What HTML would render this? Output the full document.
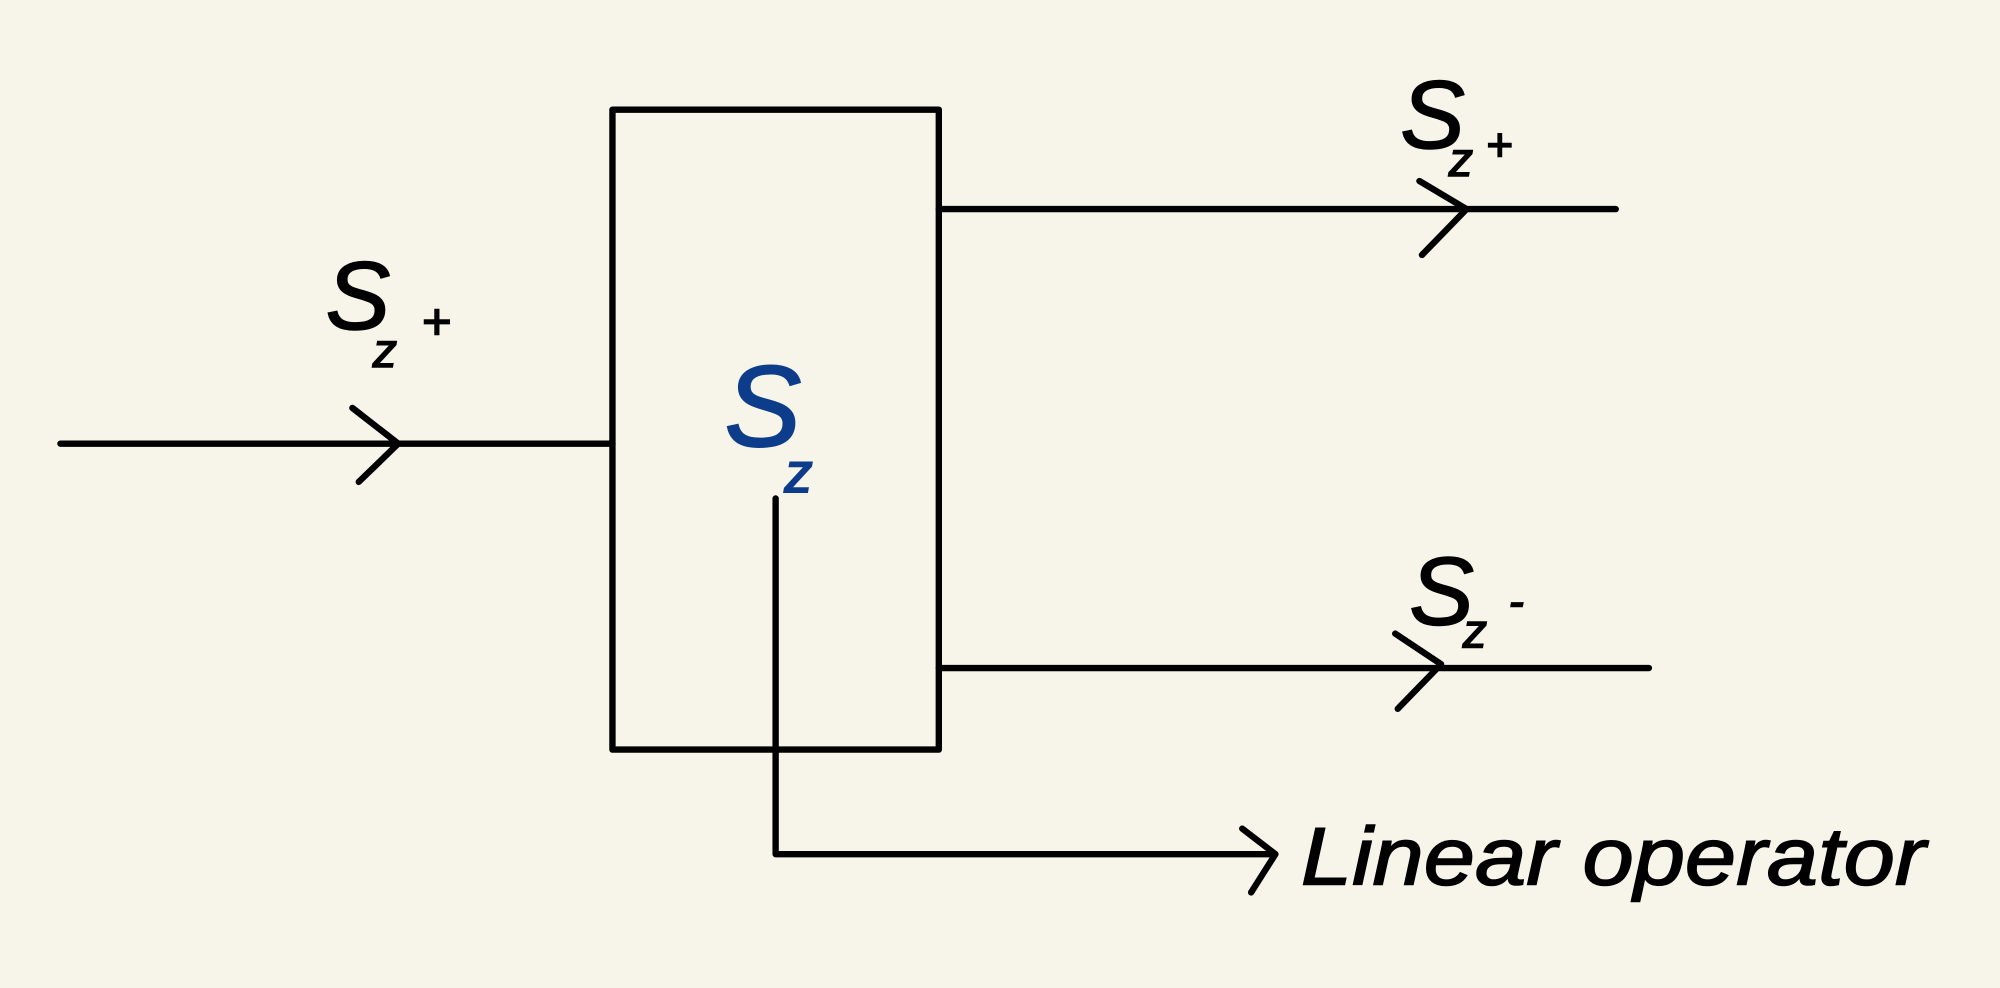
<!DOCTYPE html>
<html><head><meta charset="utf-8"><style>
html,body{margin:0;padding:0;background:#f7f5ea;}
svg{display:block;}
text{font-family:"Liberation Sans",sans-serif;font-style:italic;}
</style></head><body>
<svg width="2000" height="988" viewBox="0 0 1568 775" xmlns="http://www.w3.org/2000/svg">
<rect width="1568" height="775" fill="#f7f5ea"/>
<g stroke="#000" stroke-width="5" fill="none" stroke-linecap="round" stroke-linejoin="round">
<rect x="480" y="86" width="256" height="502"/>
<line x1="47" y1="348" x2="480" y2="348"/>
<polyline points="276,320 312,348 281,378"/>
<line x1="736" y1="164" x2="1267" y2="164"/>
<polyline points="1113,142 1150,164 1115,200"/>
<line x1="736" y1="524" x2="1293" y2="524"/>
<polyline points="1094,497 1130,521 1096,556"/>
<polyline points="608,391 608,670 1000,670"/>
<polyline points="974,650 1000,670 981,700"/>
</g>
<g fill="#000" stroke="#000" stroke-width="1.2">
<text x="255" y="258" font-size="76">S</text>
<text x="292" y="288" font-size="38">z</text>
<text x="330" y="266" font-size="40">+</text>
<text x="1098" y="116" font-size="76">S</text>
<text x="1136" y="138" font-size="38">z</text>
<text x="1165" y="126" font-size="36">+</text>
<text x="1105" y="490" font-size="76">S</text>
<text x="1147" y="508" font-size="38">z</text>
<text x="1183" y="484" font-size="36">-</text>
<text x="1020" y="694" font-size="64" textLength="490" lengthAdjust="spacingAndGlyphs">Linear operator</text>
</g>
<g fill="#0d3d8a" stroke="#0d3d8a" stroke-width="1.5">
<text x="568" y="350" font-size="90">S</text>
<text x="615" y="386" font-size="44">z</text>
</g>
</svg>
</body></html>
